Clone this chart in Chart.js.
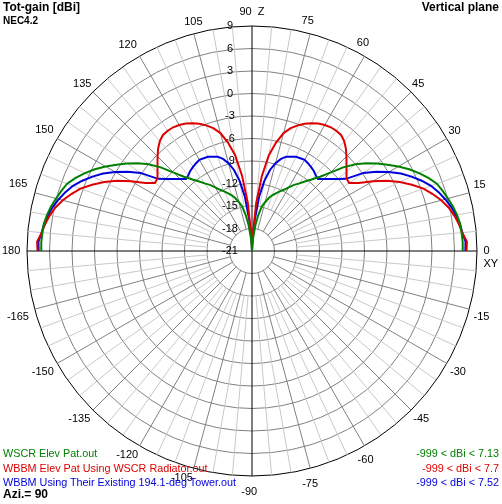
<!DOCTYPE html>
<html>
<head>
<meta charset="utf-8">
<script src="https://cdn.jsdelivr.net/npm/chart.js@4.4.1/dist/chart.umd.min.js"></script>
<style>
  body { margin: 0; background: #fff; }
  .wrap { position: relative; width: 502px; height: 504px; font-family: "Liberation Sans", Arial, sans-serif; color: #000; }
  canvas { position: absolute; left: 0; top: 0; }
  .txt { position: absolute; white-space: pre; font-size: 10.8px; line-height: 13px; }
  .big { font-weight: bold; font-size: 12px; }
  .small { font-weight: bold; font-size: 10px; }
</style>
</head>
<body>
<div class="wrap">
  <canvas id="pattern" width="502" height="504"></canvas>
  <div class="txt big" style="left:3px; top:1px;">Tot-gain [dBi]</div>
  <div class="txt small" style="left:3px; top:14px;">NEC4.2</div>
  <div class="txt big" style="right:3px; top:1px;">Vertical plane</div>
  <div id="legend"></div>
  <div class="txt big" style="left:3px; top:488px;">Azi.= 90</div>
</div>
<script>
// gain scale (dBi) - rings every 3 dB from center to rim
const gainMin = -21;
const gainMax = 9;
const gainStep = 3;

// angle labels round the rim
const angleTicks = [0, 15, 30, 45, 60, 75, 90, 105, 120, 135, 150, 165, 180,
  -165, -150, -135, -120, -105, -90, -75, -60, -45, -30, -15];

// elevation angles (deg), pattern is symmetric about Z
const elevations = [0, 2.5, 5, 7.5, 10, 12.5, 15, 17.5, 20, 22.5, 25, 27.5, 30, 32.5, 35, 37.5, 40, 42.5, 45,
  47.5, 50, 52.5, 55, 57.5, 60, 62.5, 65, 67.5, 70, 72.5, 75, 77.5, 80, 82.5, 85, 87.5, 90];

const wscrGain = [7.1, 7.12, 7.05, 6.98, 6.75, 6.45, 6.05, 5.65, 5.23, 4.45, 3.57, 2.62, 1.53, 0.42, -0.65, -1.8, -3.0, -4.5, -6.23,
  -7.57, -8.51, -9.27, -10.0, -10.55, -11.2, -11.8, -12.23, -12.67, -13.1, -13.6, -14.27, -14.9, -16.1, -17.5, -19.2, -20.3, -21];

const wbbmRadiatorGain = [7.6, 7.68, 7.15, 6.8, 6.37, 5.84, 5.12, 4.26, 3.34, 2.07, 0.74, -0.69, -2.38, -4.12, -5.19, -5.12, -4.55, -3.91, -3.19,
  -2.47, -1.88, -1.5, -1.42, -1.44, -1.6, -1.85, -2.2, -2.65, -3.17, -3.82, -4.72, -6.2, -8.04, -10.9, -14.6, -19.0, -21];

const wbbmTowerGain = [7.45, 7.5, 7.15, 6.95, 6.6, 6.2, 5.67, 5.09, 4.4, 3.49, 2.47, 1.38, 0.05, -1.34, -2.84, -5.2, -6.07, -6.8, -7.43,
  -8.0, -7.8, -7.5, -7.3, -7.12, -6.97, -7.05, -7.14, -7.4, -7.62, -8.13, -8.87, -9.93, -11.5, -13.65, -16.9, -19.5, -21];

const seriesNames = ["WSCR Elev Pat.out", "WBBM Elev Pat Using WSCR Radiator.out", "WBBM Using Their Existing 194.1-deg Tower.out"];
const seriesRanges = ["-999 < dBi < 7.13", "-999 < dBi < 7.7", "-999 < dBi < 7.52"];
const seriesColors = ["#008000", "#dd0000", "#0000dd"];

const angleStep = 2.5;
const fontFamily = "'Liberation Sans', Arial, sans-serif";
const tickPad = "\u2003\u2003\u2003\u2003";

// which spoke each rim label hangs off and its padding (layout only)
const labelPlacement = {
  "0": [0, 1], "15": [15, -1.3], "30": [30, -3.6], "45": [45, -4.2], "60": [62.5, -3.5], "75": [77.5, -1.4],
  "90": [90, 2], "105": [102.5, -2.2], "120": [120, -0.2], "135": [135, -3.4], "150": [150, -1.3], "165": [165, 2.1],
  "180": [180, 1.15], "-165": [-165, 0.4], "-150": [-150, -1.6], "-135": [-135, -1.8], "-120": [-120, -2.9],
  "-105": [-105, -2.2], "-90": [-90, 3.5], "-75": [-77.5, 1.4], "-60": [-62.5, -1.8], "-45": [-45, -2.5],
  "-30": [-30, -1.8], "-15": [-15, -1.2],
};

// spokes go clockwise from the top (90 deg elevation)
let angleLabels = [];
for (let i = 0; i < 360 / angleStep; i++) {
  let e = 90 - i * angleStep;
  if (e <= -180) e += 360;
  angleLabels.push(e);
}

function gainAt(gains, e) {
  if (e < 0) return null;
  const folded = e > 90 ? 180 - e : e;
  return gains[elevations.indexOf(folded)];
}

const datasets = [wscrGain, wbbmRadiatorGain, wbbmTowerGain].map((gains, k) => ({
  label: seriesNames[k],
  data: angleLabels.map((e) => gainAt(gains, e)),
  borderColor: seriesColors[k],
  borderWidth: 2,
  pointRadius: 0,
  pointHitRadius: 0,
  fill: false,
  spanGaps: false,
  tension: 0,
}));

function spokeColor(e) {
  if (e % 90 === 0) return "#000000";
  if (e % 15 === 0) return "#808080";
  if (e % 5 === 0) return "#c8c8c8";
  return "rgba(0,0,0,0)";
}

function tickOnSpoke(e) {
  return angleTicks.find((t) => labelPlacement[t][0] === e);
}

function angleText(e) {
  const t = tickOnSpoke(e);
  if (t === undefined) return "";
  if (t === 90) return "90  Z";
  if (t === 0) return ["", "0", "XY"];
  if (t === -90) return "-90\u2002";
  return String(t);
}

function anglePadding(e) {
  const t = tickOnSpoke(e);
  return t === undefined ? 0 : labelPlacement[t][1];
}

// the middle of the plot is kept almost bare: fine spokes stop at -15, 15 deg spokes at -18
const innerGrid = {
  id: "innerGrid",
  beforeDatasetsDraw(chart) {
    const scale = chart.scales.r;
    const ctx = chart.ctx;
    const r15 = scale.getDistanceFromCenterForValue(-15);
    const r18 = scale.getDistanceFromCenterForValue(-18);
    ctx.save();
    ctx.fillStyle = "#fff";
    ctx.beginPath();
    ctx.arc(scale.xCenter, scale.yCenter, r15 - 0.5, 0, 2 * Math.PI);
    ctx.fill();
    ctx.lineWidth = 1;
    ctx.strokeStyle = "#808080";
    ctx.beginPath();
    ctx.arc(scale.xCenter, scale.yCenter, r18, 0, 2 * Math.PI);
    ctx.stroke();
    angleLabels.forEach((e, i) => {
      if (e % 15 !== 0) return;
      const from = scale.getPointPosition(i, e % 90 === 0 ? 0 : r18);
      const to = scale.getPointPosition(i, r15);
      ctx.strokeStyle = e % 90 === 0 ? "#000000" : "#808080";
      ctx.beginPath();
      ctx.moveTo(from.x, from.y);
      ctx.lineTo(to.x, to.y);
      ctx.stroke();
    });
    // ring values that sat inside the cleared disc
    ctx.font = "11px " + fontFamily;
    ctx.fillStyle = "#000";
    ctx.textAlign = "center";
    ctx.textBaseline = "middle";
    scale.ticks.forEach((t) => {
      if (t.value >= -15) return;
      ctx.fillText(t.label, scale.xCenter, scale.yCenter - scale.getDistanceFromCenterForValue(t.value));
    });
    ctx.restore();
  },
};

new Chart(document.getElementById("pattern"), {
  type: "radar",
  data: { labels: angleLabels, datasets: datasets },
  options: {
    responsive: false,
    animation: false,
    layout: { padding: { left: 1, right: 1, top: 0, bottom: 0 } },
    plugins: { legend: { display: false }, tooltip: { enabled: false } },
    scales: {
      r: {
        min: gainMin,
        max: gainMax,
        startAngle: 0,
        ticks: {
          stepSize: gainStep,
          color: "#000",
          showLabelBackdrop: false,
          backdropPadding: 0,
          font: { family: fontFamily, size: 11 },
          // push the ring values a little left of the Z axis
          callback: (v) => v + tickPad,
        },
        grid: {
          circular: true,
          lineWidth: 1,
          color: (ctx) => (ctx.tick && ctx.tick.value === gainMax ? "#000000" : "#808080"),
        },
        angleLines: {
          lineWidth: 1,
          color: (ctx) => spokeColor(angleLabels[ctx.index]),
        },
        pointLabels: {
          color: "#000",
          font: { family: fontFamily, size: 11 },
          padding: (ctx) => anglePadding(angleLabels[ctx.index]),
          callback: (label) => angleText(label),
        },
      },
    },
  },
  plugins: [innerGrid],
});

// legend lines at the bottom
const legend = document.getElementById("legend");
seriesNames.forEach((name, k) => {
  const top = 447 + k * 14.5;
  legend.innerHTML +=
    '<div class="txt" style="left:3px; top:' + top + 'px; color:' + seriesColors[k] + ';">' + name + '</div>' +
    '<div class="txt" style="right:3px; top:' + top + 'px; color:' + seriesColors[k] + ';">' +
    seriesRanges[k].replace(/</g, "&lt;") + '</div>';
});
</script>
</body>
</html>
